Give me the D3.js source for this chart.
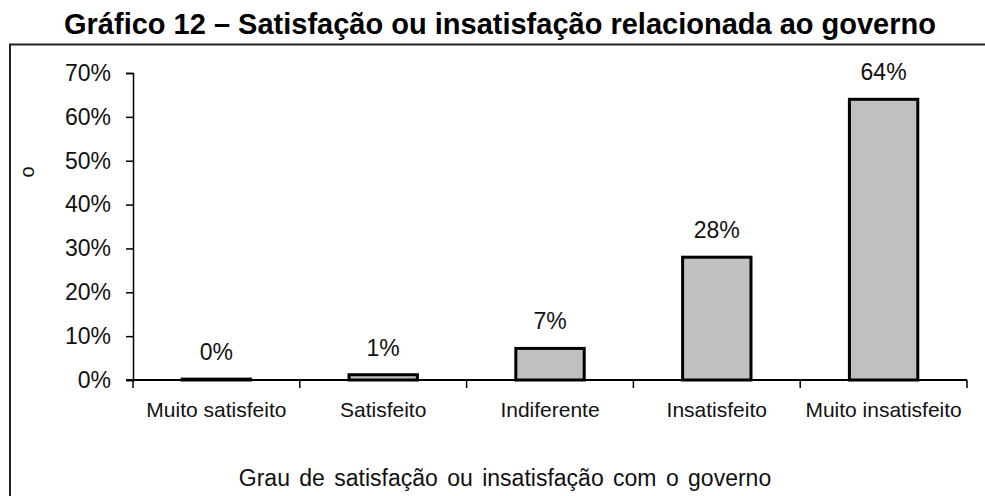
<!DOCTYPE html>
<html>
<head>
<meta charset="utf-8">
<script src="https://cdn.jsdelivr.net/npm/d3@7"></script>
<style>
body { margin:0; background:#fff; }
svg text { font-family: "Liberation Sans", Arial, sans-serif; }
</style>
</head>
<body>
<div id="graphe"></div>
<script>
var categories = ["Muito satisfeito", "Satisfeito", "Indiferente", "Insatisfeito", "Muito insatisfeito"];
var values = [0.2, 1.2, 7.2, 28, 64];
var valueLabels = ["0%", "1%", "7%", "28%", "64%"];
var yTicks = [0, 10, 20, 30, 40, 50, 60, 70];

var svgwidth = 985, svgheight = 496;
var gmargin = {left: 133, right: 18, top: 73, bottom: 116};

var svg = d3.select("#graphe").append("svg")
	.attr("width", svgwidth).attr("height", svgheight);

// titre
svg.append("text")
	.attr("x", 500).attr("y", 34)
	.attr("text-anchor", "middle")
	.style("font-weight", "bold").style("font-size", "29px")
	.text("Gráfico 12 – Satisfação ou insatisfação relacionada ao governo");

// cadre (bord droit et bas coupés)
svg.append("path")
	.attr("d", "M10,496 L10,44.5 L985,44.5")
	.attr("fill", "none").attr("stroke", "#222").attr("stroke-width", 2);

var x = d3.scaleBand().domain(categories)
	.range([gmargin.left, svgwidth - gmargin.right])
	.paddingInner(0.59).paddingOuter(0.295);
var y = d3.scaleLinear().domain([0, 70])
	.range([svgheight - gmargin.bottom, gmargin.top]);

// axe Y
var yAxis = svg.append("g")
	.attr("transform", "translate(" + gmargin.left + ",0)")
	.call(d3.axisLeft(y).tickValues(yTicks).tickSize(7).tickPadding(15)
		.tickFormat(function(d){ return d + "%"; }));
yAxis.select(".domain").attr("stroke", "#000").attr("stroke-width", 1.5);
yAxis.selectAll(".tick line").attr("stroke", "#000").attr("stroke-width", 1.5);
yAxis.selectAll("text").style("font-size", "23px").attr("fill", "#111");

// barres
svg.append("g").selectAll("rect")
	.data(values)
	.enter().append("rect")
	.attr("x", function(d, i){ return x(categories[i]); })
	.attr("y", function(d){ return y(d); })
	.attr("width", x.bandwidth())
	.attr("height", function(d){ return y(0) - y(d); })
	.attr("fill", "#c0c0c0")
	.attr("stroke", "#000").attr("stroke-width", 3);

// axe X
var xBot = y(0);
var xAxis = svg.append("g")
	.attr("transform", "translate(0," + xBot + ")");
xAxis.append("line")
	.attr("x1", gmargin.left - 7).attr("x2", svgwidth - gmargin.right)
	.attr("stroke", "#000").attr("stroke-width", 2);
var bounds = categories.map(function(c){ return x(c) - x.step() * x.paddingOuter(); });
bounds.push(svgwidth - gmargin.right);
xAxis.selectAll(".sep").data(bounds).enter().append("line")
	.attr("class", "sep")
	.attr("x1", function(d){ return d; }).attr("x2", function(d){ return d; })
	.attr("y1", 0).attr("y2", 8)
	.attr("stroke", "#000").attr("stroke-width", 1.5);
xAxis.selectAll(".cat").data(categories).enter().append("text")
	.attr("class", "cat")
	.attr("x", function(d){ return x(d) + x.bandwidth() / 2; })
	.attr("y", 37)
	.attr("text-anchor", "middle")
	.style("font-size", "21px").attr("fill", "#111")
	.text(function(d){ return d; });

// etiquettes de valeurs
svg.append("g").selectAll("text")
	.data(values)
	.enter().append("text")
	.attr("x", function(d, i){ return x(categories[i]) + x.bandwidth() / 2; })
	.attr("y", function(d){ return y(d) - 19; })
	.attr("text-anchor", "middle")
	.style("font-size", "23px").attr("fill", "#111")
	.text(function(d, i){ return valueLabels[i]; });

// titre axe X
svg.append("text")
	.attr("x", 505).attr("y", 486)
	.attr("text-anchor", "middle")
	.style("font-size", "23px").style("word-spacing", "3px").attr("fill", "#111")
	.text("Grau de satisfação ou insatisfação com o governo");

// titre axe Y (tronqué)
svg.append("text")
	.attr("transform", "translate(34,172) rotate(-90)")
	.attr("text-anchor", "middle")
	.style("font-size", "20px").attr("fill", "#111")
	.text("o");
</script>
</body>
</html>
